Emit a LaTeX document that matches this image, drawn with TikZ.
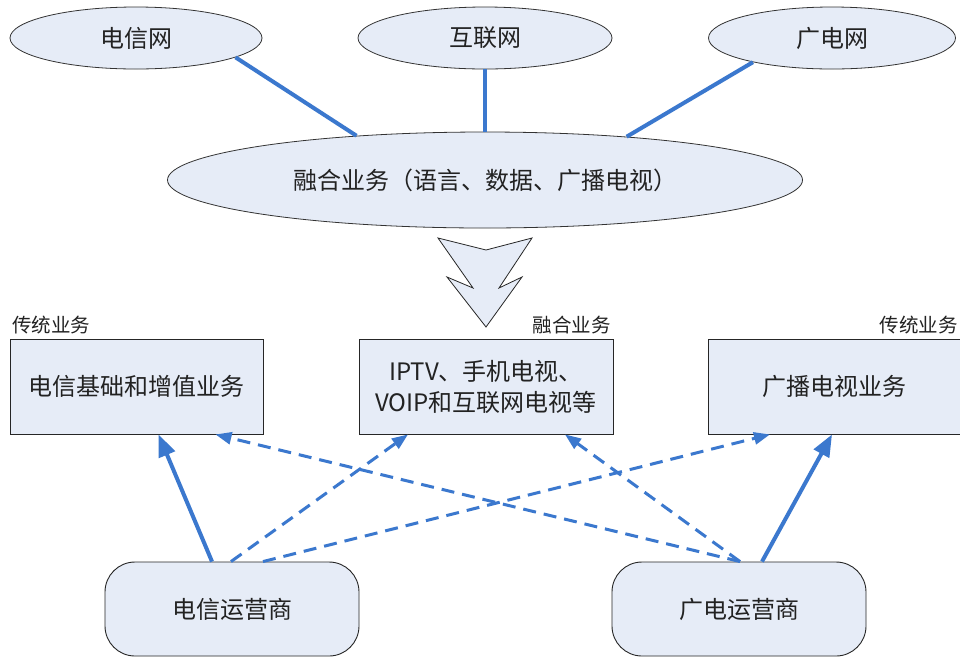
\documentclass[tikz,border=0pt]{standalone}
\usepackage{fontspec}
\setmainfont{Noto Sans CJK SC}
\usetikzlibrary{shapes.geometric,arrows.meta}
\definecolor{boxfill}{HTML}{E6ECF7}
\definecolor{linkblue}{HTML}{3B78CE}
\definecolor{txt}{HTML}{222222}
\tikzset{
  net/.style={ellipse,draw=black!80,line width=0.8pt,fill=boxfill,inner sep=0pt,
    minimum width=#1,minimum height=62pt,font=\fontsize{24}{28}\selectfont,text=txt},
  svc/.style={rectangle,draw=black!85,line width=0.9pt,fill=boxfill,inner sep=0pt,
    minimum width=253pt,minimum height=95pt,align=center,
    font=\fontsize{24}{31}\selectfont,text=txt},
  oper/.style={rectangle,rounded corners=30pt,draw=black!85,line width=0.9pt,fill=boxfill,
    inner sep=0pt,minimum width=254pt,minimum height=94pt,
    font=\fontsize{24}{28}\selectfont,text=txt},
  tag/.style={inner sep=0pt,font=\fontsize{19.5}{22}\selectfont,text=txt},
  solidlink/.style={draw=linkblue,line width=4pt},
  solidarrow/.style={draw=linkblue,line width=4pt,-{Triangle[length=22pt,width=17pt]}},
  dasharrow/.style={draw=linkblue,line width=3pt,dash pattern=on 13pt off 8pt,
    -{Triangle[length=16pt,width=12pt]}},
}
\begin{document}
\begin{tikzpicture}[x=1pt,y=-1pt]
\useasboundingbox (0,0) rectangle (960,657);
\fill[white] (0,0) rectangle (960,657);
% top networks
\node[net=252pt] (tel) at (136,38) {电信网};
\node[net=254pt] (inet) at (485,38) {互联网};
\node[net=247pt] (bcast) at (832,38) {广电网};
\node[net=635pt,minimum height=96pt] (conv) at (485,180) {融合业务（语言、数据、广播电视）};
\draw[solidlink] (tel.-11) -- (conv.161);
\draw[solidlink] (inet.south) -- (conv.north);
\draw[solidlink] (bcast.-163) -- (conv.17);
% fat arrow
\draw[black!85,line width=0.8pt,fill=boxfill,line join=miter]
  (438,238) -- (486,250) -- (532,238) -- (499,288) -- (522,277) -- (486,327)
  -- (447,277) -- (473,288) -- cycle;
% service boxes
\node[svc] (lb) at (136.5,386.5) {电信基础和增值业务};
\node[svc,minimum width=254pt] (mb) at (486,386.5) {IPTV、手机电视、\\VOIP和互联网电视等};
\node[svc,minimum width=252pt] (rb) at (834,386.5) {广播电视业务};
\node[tag,anchor=west] (tl) at (12,325) {传统业务};
\node[tag,anchor=east] (tm) at (611,325) {融合业务};
\node[tag,anchor=east] (tr) at (958,325) {传统业务};
% operators
\node[oper] (op1) at (232,609) {电信运营商};
\node[oper] (op2) at (739,609) {广电运营商};
% links
\draw[solidarrow] ([xshift=-20pt]op1.north) -- ([xshift=22pt]lb.south);
\draw[solidarrow] ([xshift=23pt]op2.north) -- ([xshift=-2pt]rb.south);
\draw[dasharrow] ([xshift=-1pt]op1.north) -- ([xshift=-78pt]mb.south);
\draw[dasharrow] ([xshift=31pt]op1.north) -- ([xshift=-64pt]rb.south);
\draw[dasharrow] ([xshift=1pt]op2.north) -- ([xshift=79pt]lb.south);
\draw[dasharrow] ([xshift=1pt]op2.north) -- ([xshift=79pt]mb.south);
\end{tikzpicture}
\end{document}
